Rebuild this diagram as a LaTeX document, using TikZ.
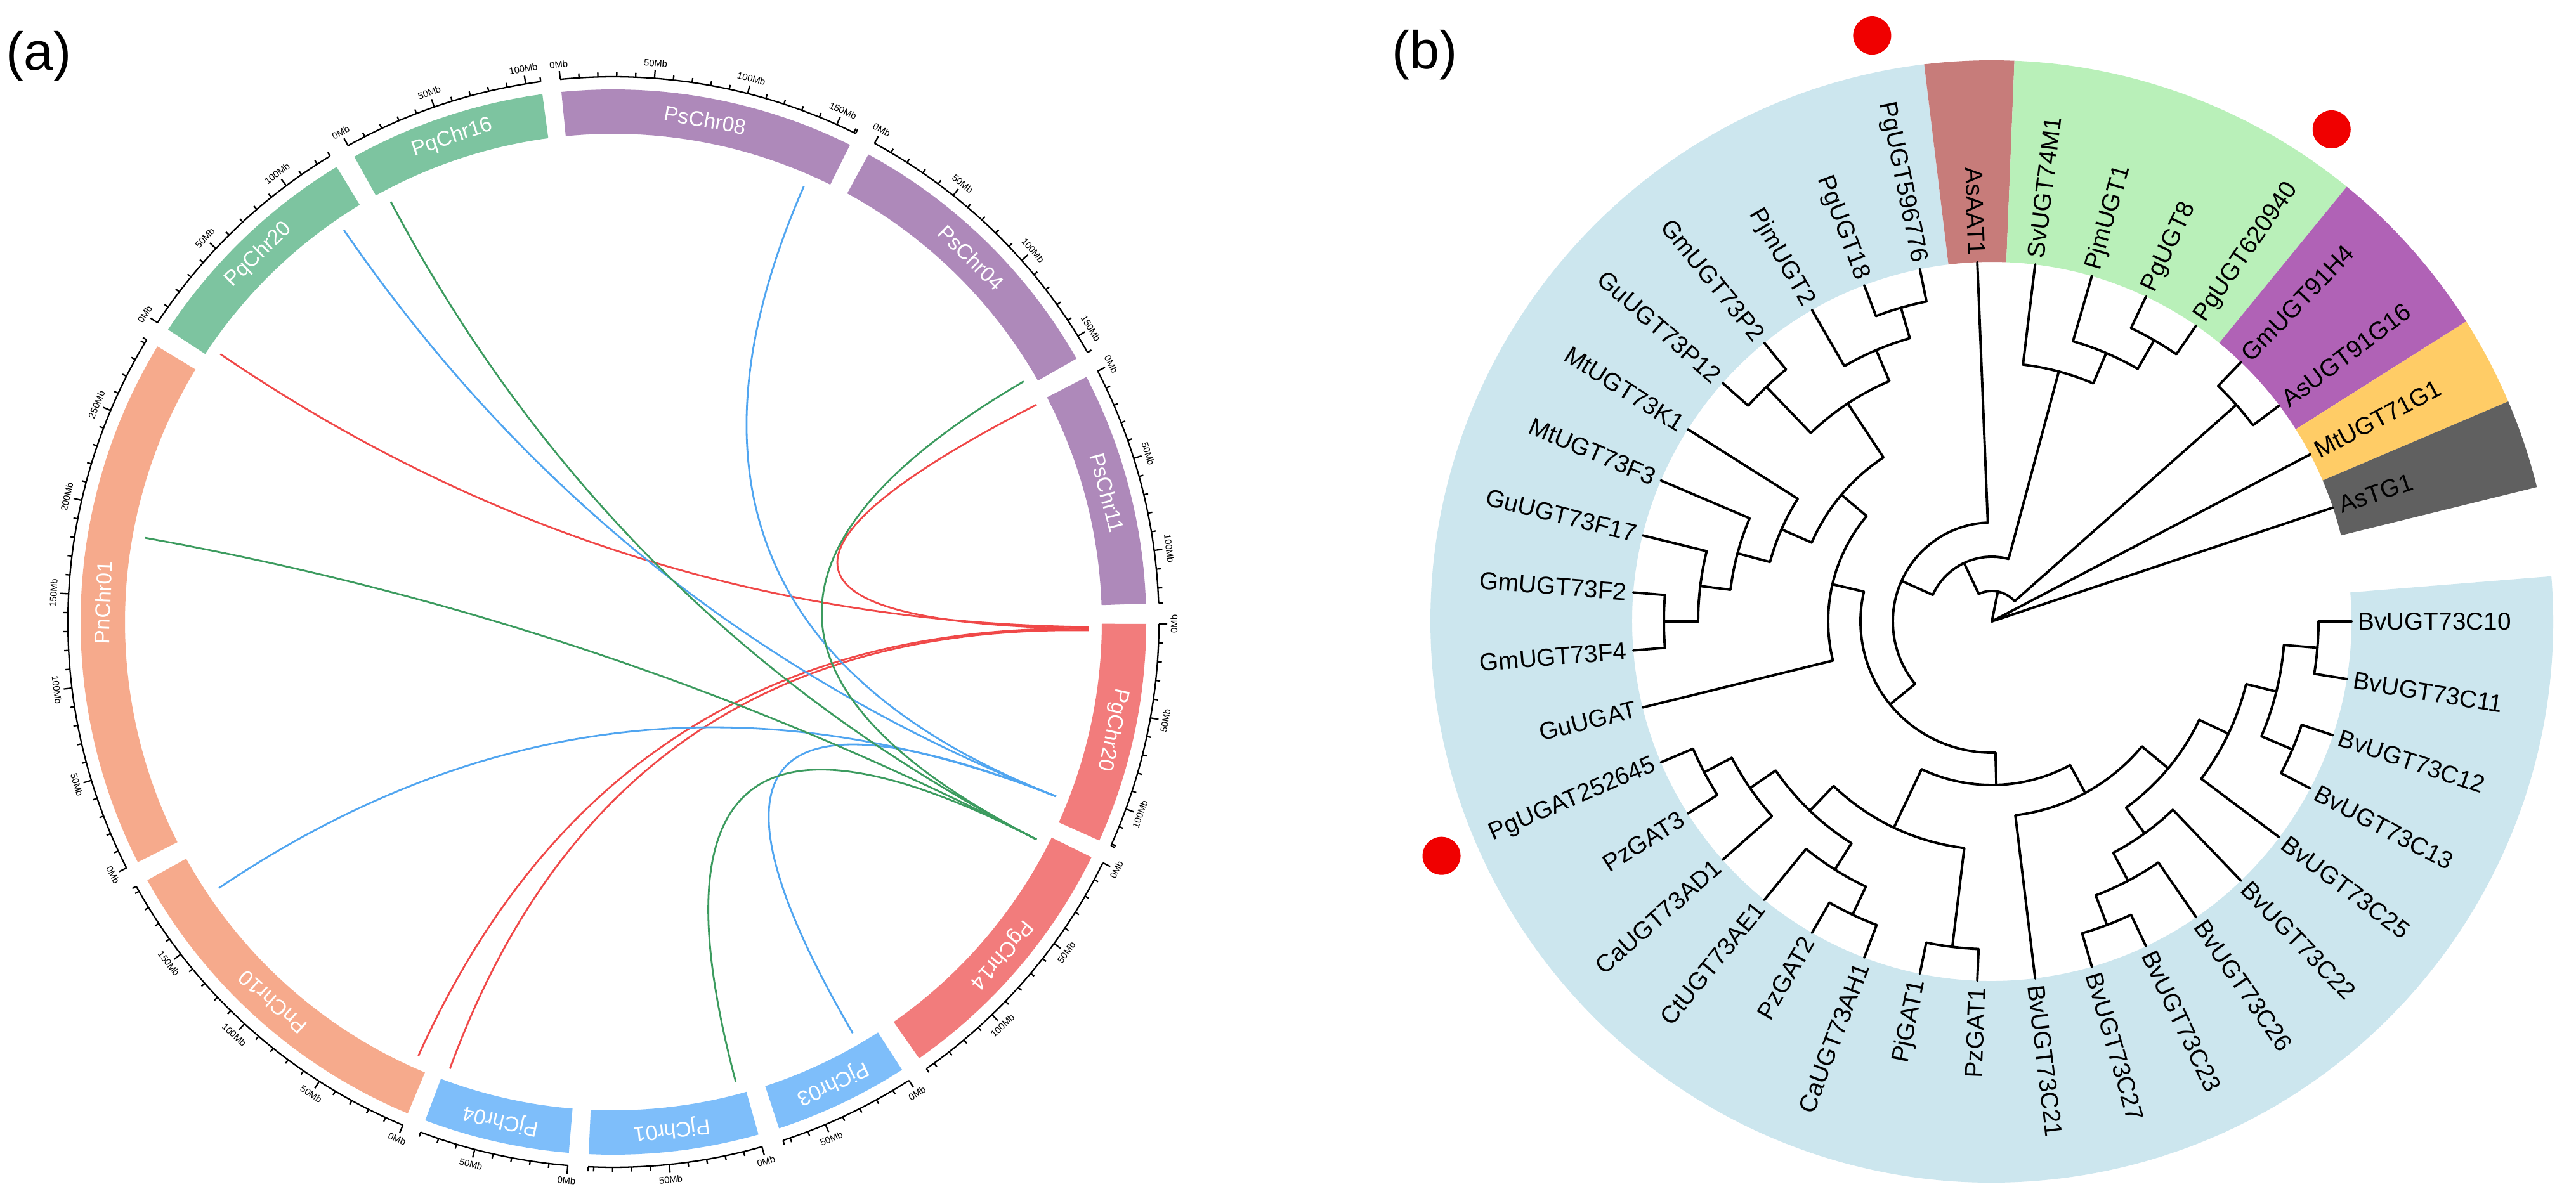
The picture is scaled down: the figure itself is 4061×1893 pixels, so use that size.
\documentclass[tikz,border=0pt]{standalone}
\usepackage{fontspec}
\setmainfont{Liberation Sans}
\usetikzlibrary{calc}
\definecolor{cPs}{HTML}{AE89BA}
\definecolor{cPq}{HTML}{7DC4A0}
\definecolor{cPn}{HTML}{F6AA8C}
\definecolor{cPg}{HTML}{F27C7C}
\definecolor{cPj}{HTML}{7EBEFA}
\definecolor{lkR}{HTML}{F04848}
\definecolor{lkB}{HTML}{50A5F0}
\definecolor{lkG}{HTML}{3C9B5F}
\definecolor{sBlue}{HTML}{CCE6EE}
\definecolor{sBrown}{HTML}{C77C7A}
\definecolor{sGreen}{HTML}{B9F0B9}
\definecolor{sPurple}{HTML}{B062B6}
\definecolor{sOrange}{HTML}{FFCC66}
\definecolor{sGray}{HTML}{606060}
\definecolor{dotred}{HTML}{F00000}
\def\dpm{0.1985}
\newcommand\chrom[5]{%
  \pgfmathsetmacro\cEnd{#2-#3*\dpm}%
  \pgfmathsetmacro\cMid{(#2+\cEnd)/2}%
  \pgfmathsetmacro\cRot{\cMid-90}%
  \fill[#4] (#2:770) arc[start angle=#2, end angle=\cEnd, radius=770] -- (\cEnd:840) arc[start angle=\cEnd, end angle=#2, radius=840] -- cycle;
  \node[chrlab, rotate=\cRot] (#1) at (\cMid:805) {#5};
  \draw[ringline] (#2:860) arc[start angle=#2, end angle=\cEnd, radius=860];
  \draw[ringline] (\cEnd:860) -- (\cEnd:867);
  \foreach \m in {0,10,...,#3}{%
    \pgfmathsetmacro\tA{#2-\m*\dpm}%
    \pgfmathtruncatemacro\isMaj{mod(\m,50)==0}%
    \ifnum\isMaj=1
      \draw[ringline] (\tA:860) -- (\tA:873);
      \pgfmathsetmacro\sA{sin(\tA)}%
      \ifdim\sA pt<0pt
        \pgfmathsetmacro\tR{\tA+90}%
        \node[ticklab, anchor=north, rotate=\tR] (#1t\m) at (\tA:876) {\m Mb};
      \else
        \pgfmathsetmacro\tR{\tA-90}%
        \node[ticklab, anchor=south, rotate=\tR] (#1t\m) at (\tA:876) {\m Mb};
      \fi
    \else
      \draw[ringline] (\tA:860) -- (\tA:867);
    \fi
  }%
}
\newcommand\lnk[4]{%
  \coordinate (#1s) at (#2:750);
  \coordinate (#1e) at (#3:750);
  \draw[chord,#4] (#1s) .. controls (#2:250) and (#3:250) .. (#1e);
}
\newcommand\rl[3]{\draw[treeline] (#1:#2) -- (#1:#3);}
\newcommand\ar[3]{\draw[treeline] (#2:#1) arc[start angle=#2, end angle=#3, radius=#1];}
\newcommand\sect[4]{\fill[#4] (#1:567) arc[start angle=#1, end angle=#2, radius=567] -- (#2:885) arc[start angle=#2, end angle=#1, radius=885] -- cycle;}
\newcommand\lfR[3]{\node[leaflab,anchor=west,rotate=#2] (#1) at (#2:577) {#3};}
\newcommand\lfL[4]{\node[leaflab,anchor=east,rotate=#3] (#1) at (#2:577) {#4};}
\begin{document}
\begin{tikzpicture}[x=0.01cm,y=0.01cm,
  chrlab/.style={text=white, font=\fontsize{9.5}{11}\selectfont, inner sep=0pt},
  ticklab/.style={font=\fontsize{4.2}{5}\selectfont, inner sep=0.5pt},
  ringline/.style={line width=0.65pt, black},
  chord/.style={line width=0.8pt},
  treeline/.style={line width=1.1pt, black, line cap=round, line join=round},
  leaflab/.style={font=\fontsize{11}{13}\selectfont, inner sep=0pt},
  panlab/.style={font=\fontsize{24}{28}\selectfont, inner sep=0pt}]
\useasboundingbox (0,0) rectangle (4061,1893);
\fill[white] (0,0) rectangle (4061,1893);
\node[panlab] (pa) at (61,1804) {(a)};
\node[panlab] (pb) at (2246,1806) {(b)};
% ---------------- panel (a)
\begin{scope}[shift={(967,912)}]
\lnk{r1}{145.7}{-0.6}{lkR}
\lnk{r2}{27.2}{-0.8}{lkR}
\lnk{r3}{-114.2}{-0.8}{lkR}
\lnk{r4}{-110.1}{-1.0}{lkR}
\lnk{b1}{124.5}{-21.5}{lkB}
\lnk{b2}{66.4}{-21.5}{lkB}
\lnk{b3}{-146}{-21.5}{lkB}
\lnk{b4}{-59.8}{-21.5}{lkB}
\lnk{g1}{117.9}{-27.2}{lkG}
\lnk{g2}{30.4}{-27.2}{lkG}
\lnk{g3}{169.8}{-27.2}{lkG}
\lnk{g4}{-75.1}{-27.2}{lkG}
\chrom{PsChr08}{95.6}{161}{cPs}{PsChr08}
\chrom{PsChr04}{61.4}{160}{cPs}{PsChr04}
\chrom{PsChr11}{27.4}{128}{cPs}{PsChr11}
\chrom{PgChr20}{-0.2}{121}{cPg}{PgChr20}
\chrom{PgChr14}{-26.2}{145}{cPg}{PgChr14}
\chrom{PjChr03}{-57.2}{74}{cPj}{PjChr03}
\chrom{PjChr01}{-74.2}{93}{cPj}{PjChr01}
\chrom{PjChr04}{-94.8}{80}{cPj}{PjChr04}
\chrom{PnChr10}{-112.7}{193}{cPn}{PnChr10}
\chrom{PnChr01}{-153.2}{292}{cPn}{PnChr01}
\chrom{PqChr20}{146.7}{128}{cPq}{PqChr20}
\chrom{PqChr16}{119.1}{108}{cPq}{PqChr16}
\end{scope}
% ---------------- panel (b)
\begin{scope}[shift={(3140,913)}]
\sect{96.92}{364.62}{}{sBlue}
\sect{87.69}{96.92}{}{sBrown}
\sect{50.77}{87.69}{}{sGreen}
\sect{32.31}{50.77}{}{sPurple}
\sect{23.08}{32.31}{}{sOrange}
\sect{13.85}{23.08}{}{sGray}
\fill[dotred] (101.54:943) circle[radius=30];
\fill[dotred] (55.38:943) circle[radius=30];
\fill[dotred] (203.08:943) circle[radius=30];
% tree
\rl{78.5}{0}{48}
\rl{27.69}{0}{567}
\rl{18.46}{0}{567}
\ar{48}{41.54}{115.4}
\rl{41.54}{48}{515} \rl{115.4}{48}{102}
\ar{515}{36.92}{46.15} \rl{46.15}{515}{567} \rl{36.92}{515}{567}
\ar{102}{75}{155.8} \rl{75}{102}{408} \rl{155.8}{102}{156}
\ar{408}{66.92}{83.08} \rl{83.08}{408}{567} \rl{66.92}{408}{460}
\ar{460}{60}{73.85} \rl{73.85}{460}{567} \rl{60}{460}{512}
\ar{512}{55.38}{64.62} \rl{64.62}{512}{567} \rl{55.38}{512}{567}
\ar{156}{92.31}{219.2} \rl{92.31}{156}{567} \rl{219.2}{156}{207}
\ar{207}{166.88}{271.6} \rl{166.88}{207}{258} \rl{271.6}{207}{258}
\ar{258}{139.9}{193.85} \rl{193.85}{258}{567} \rl{139.9}{258}{310}
\ar{310}{123.46}{156.35} \rl{123.46}{310}{412} \rl{156.35}{310}{362}
\ar{412}{113.08}{133.85} \rl{113.08}{412}{465} \rl{133.85}{412}{513}
\ar{465}{106.15}{120} \rl{120}{465}{567} \rl{106.15}{465}{515}
\ar{515}{101.54}{110.77} \rl{110.77}{515}{567} \rl{101.54}{515}{567}
\ar{513}{129.23}{138.46} \rl{138.46}{513}{567} \rl{129.23}{513}{567}
\ar{362}{147.69}{165} \rl{147.69}{362}{567} \rl{165}{362}{415}
\ar{415}{156.92}{173.08} \rl{156.92}{415}{567} \rl{173.08}{415}{463}
\ar{463}{166.15}{180} \rl{166.15}{463}{567} \rl{180}{463}{517}
\ar{517}{175.38}{184.62} \rl{175.38}{517}{567} \rl{184.62}{517}{567}
\ar{258}{244.6}{298.56} \rl{244.6}{258}{360} \rl{298.56}{258}{308}
\ar{360}{226.15}{263.08} \rl{226.15}{360}{414} \rl{263.08}{360}{517}
\ar{517}{258.46}{267.69} \rl{258.46}{517}{567} \rl{267.69}{517}{567}
\ar{414}{214.6}{237.7} \rl{214.6}{414}{463} \rl{237.7}{414}{463}
\ar{463}{207.69}{221.54} \rl{221.54}{463}{567} \rl{207.69}{463}{512}
\ar{512}{203.08}{212.31} \rl{212.31}{512}{567} \rl{203.08}{512}{567}
\ar{463}{230.77}{244.6} \rl{230.77}{463}{567} \rl{244.6}{463}{512}
\ar{512}{240}{249.23} \rl{240}{512}{567} \rl{249.23}{512}{567}
\ar{308}{276.92}{320.2} \rl{276.92}{308}{567} \rl{320.2}{308}{362}
\ar{362}{305.77}{334.6} \rl{305.77}{362}{412} \rl{334.6}{362}{413}
\ar{412}{297.7}{313.85} \rl{313.85}{412}{567} \rl{297.7}{412}{462}
\ar{462}{290.77}{304.62} \rl{304.62}{462}{567} \rl{290.77}{462}{512}
\ar{512}{286.15}{295.38} \rl{295.38}{512}{567} \rl{286.15}{512}{567}
\ar{413}{323.08}{346.15} \rl{323.08}{413}{567} \rl{346.15}{413}{462}
\ar{462}{336.92}{355.38} \rl{336.92}{462}{515} \rl{355.38}{462}{515}
\ar{515}{332.31}{341.54} \rl{332.31}{515}{567} \rl{341.54}{515}{567}
\ar{515}{350.77}{360} \rl{350.77}{515}{567} \rl{360}{515}{567}
% leaf labels
\lfR{L0}{360}{BvUGT73C10}
\lfR{L1}{350.77}{BvUGT73C11}
\lfR{L2}{341.54}{BvUGT73C12}
\lfR{L3}{332.31}{BvUGT73C13}
\lfR{L4}{323.08}{BvUGT73C25}
\lfR{L5}{313.85}{BvUGT73C22}
\lfR{L6}{304.62}{BvUGT73C26}
\lfR{L7}{295.38}{BvUGT73C23}
\lfR{L8}{286.15}{BvUGT73C27}
\lfR{L9}{276.92}{BvUGT73C21}
\lfL{L10}{267.69}{87.69}{PzGAT1}
\lfL{L11}{258.46}{78.46}{PjGAT1}
\lfL{L12}{249.23}{69.23}{CaUGT73AH1}
\lfL{L13}{240}{60}{PzGAT2}
\lfL{L14}{230.77}{50.77}{CtUGT73AE1}
\lfL{L15}{221.54}{41.54}{CaUGT73AD1}
\lfL{L16}{212.31}{32.31}{PzGAT3}
\lfL{L17}{203.08}{23.08}{PgUGAT252645}
\lfL{L18}{193.85}{13.85}{GuUGAT}
\lfL{L19}{184.62}{4.62}{GmUGT73F4}
\lfL{L20}{175.38}{-4.62}{GmUGT73F2}
\lfL{L21}{166.15}{-13.85}{GuUGT73F17}
\lfL{L22}{156.92}{-23.08}{MtUGT73F3}
\lfL{L23}{147.69}{-32.31}{MtUGT73K1}
\lfL{L24}{138.46}{-41.54}{GuUGT73P12}
\lfL{L25}{129.23}{-50.77}{GmUGT73P2}
\lfL{L26}{120}{-60}{PjmUGT2}
\lfL{L27}{110.77}{-69.23}{PgUGT18}
\lfL{L28}{101.54}{-78.46}{PgUGT596776}
\lfL{L29}{92.31}{-87.69}{AsAAT1}
\lfR{L30}{83.08}{SvUGT74M1}
\lfR{L31}{73.85}{PjmUGT1}
\lfR{L32}{64.62}{PgUGT8}
\lfR{L33}{55.38}{PgUGT620940}
\lfR{L34}{46.15}{GmUGT91H4}
\lfR{L35}{36.92}{AsUGT91G16}
\lfR{L36}{27.69}{MtUGT71G1}
\lfR{L37}{18.46}{AsTG1}
\end{scope}
\end{tikzpicture}
\end{document}
